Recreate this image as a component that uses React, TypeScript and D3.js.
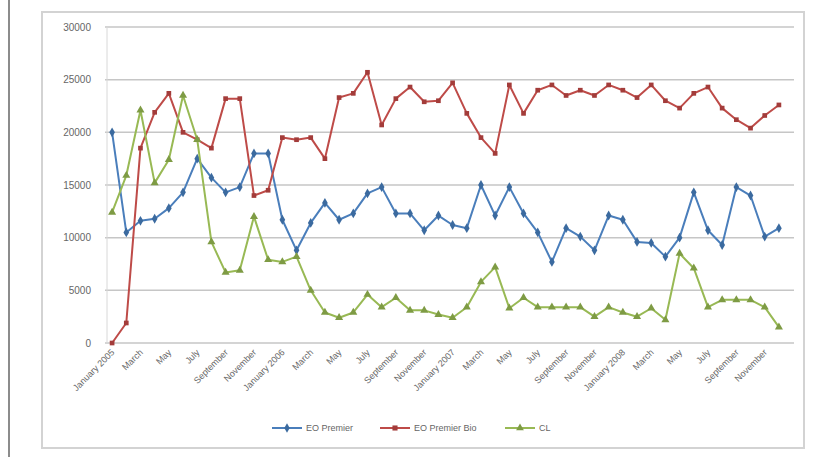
import * as d3 from "d3";

// categories (monthly), labelled every second month on the axis
const months = [
  "January 2005", "February", "March", "April", "May", "June", "July", "August",
  "September", "October", "November", "December",
  "January 2006", "February", "March", "April", "May", "June", "July", "August",
  "September", "October", "November", "December",
  "January 2007", "February", "March", "April", "May", "June", "July", "August",
  "September", "October", "November", "December",
  "January 2008", "February", "March", "April", "May", "June", "July", "August",
  "September", "October", "November", "December",
];

const premier = [
  20000, 10500, 11600, 11800, 12800, 14300, 17500, 15700, 14300, 14800, 18000, 18000,
  11700, 8800, 11400, 13300, 11700, 12300, 14200, 14800, 12300, 12300, 10700, 12100,
  11200, 10900, 15000, 12100, 14800, 12300, 10500, 7700, 10900, 10100, 8800, 12100,
  11700, 9600, 9500, 8200, 10000, 14300, 10700, 9300, 14800, 14000, 10100, 10900,
];

const premierBio = [
  0, 1900, 18500, 21900, 23700, 20000, 19300, 18500, 23200, 23200, 14000, 14500,
  19500, 19300, 19500, 17500, 23300, 23700, 25700, 20700, 23200, 24300, 22900, 23000,
  24700, 21800, 19500, 18000, 24500, 21800, 24000, 24500, 23500, 24000, 23500, 24500,
  24000, 23300, 24500, 23000, 22300, 23700, 24300, 22300, 21200, 20400, 21600, 22600,
];

const cl = [
  12400, 15900, 22100, 15200, 17400, 23500, 19300, 9600, 6700, 6900, 12000, 7900,
  7700, 8200, 5000, 2900, 2400, 2900, 4600, 3400, 4300, 3100, 3100, 2700,
  2400, 3400, 5800, 7200, 3300, 4300, 3400, 3400, 3400, 3400, 2500, 3400,
  2900, 2500, 3300, 2200, 8500, 7100, 3400, 4100, 4100, 4100, 3400, 1500,
];

const yTicks = [0, 5000, 10000, 15000, 20000, 25000, 30000];

const series = [
  { name: "EO Premier", values: premier, color: "#4A7EBB", mark: "#3B6A9F", symbol: d3.symbolDiamond },
  { name: "EO Premier Bio", values: premierBio, color: "#BE4B48", mark: "#A33C3A", symbol: d3.symbolSquare },
  { name: "CL", values: cl, color: "#98B954", mark: "#7E9B44", symbol: d3.symbolTriangle },
];

export default function App() {
  const width = 833;
  const height = 457;
  const plot = { left: 105, right: 786, top: 27, bottom: 343 };

  const x = d3
    .scalePoint<number>()
    .domain(d3.range(months.length))
    .range([plot.left, plot.right])
    .padding(0.5);

  const y = d3.scaleLinear().domain([0, 30000]).range([plot.bottom, plot.top]);

  const line = d3
    .line<number>()
    .x((_, i) => x(i) as number)
    .y((d) => y(d));

  const fmt = d3.format("d");
  const legendX = [272, 380, 505];

  return (
    <svg
      width={width}
      height={height}
      style={{ position: "absolute", left: 0, top: 0, fontFamily: "Liberation Sans, Arial, sans-serif" }}
    >
      <rect width={width} height={height} fill="#fff" />
      {/* page edge line */}
      <line x1={9} x2={9} y1={0} y2={height} stroke="#8c8c8c" strokeWidth={2} />
      {/* chart area */}
      <rect x={42} y={12} width={762} height={436} fill="#fff" stroke="#d3d3d3" strokeWidth={2} />

      {/* gridlines */}
      {yTicks.map((t) => (
        <line key={t} x1={plot.left} x2={plot.right + 8} y1={y(t)} y2={y(t)} stroke="#c6c6c6" strokeWidth={1.5} />
      ))}
      <line x1={plot.left + 2} x2={plot.left + 2} y1={plot.top} y2={plot.bottom} stroke="#d8d8d8" />

      {/* y axis labels */}
      {yTicks.map((t) => (
        <text key={t} x={91} y={y(t)} dy="0.35em" textAnchor="end" fontSize={10} fill="#666">
          {fmt(t)}
        </text>
      ))}

      {/* x axis labels */}
      {months.map((m, i) =>
        i % 2 === 0 ? (
          <text
            key={i}
            transform={`translate(${(x(i) as number) + 3},${plot.bottom + 10}) rotate(-45)`}
            textAnchor="end"
            fontSize={9}
            fill="#666"
          >
            {m}
          </text>
        ) : null
      )}

      {/* series */}
      {series.map((s) => (
        <g key={s.name}>
          <path d={line(s.values) ?? ""} fill="none" stroke={s.color} strokeWidth={2} strokeLinejoin="round" />
          {s.values.map((v, i) => (
            <path
              key={i}
              transform={`translate(${x(i)},${y(v)})`}
              d={d3.symbol().type(s.symbol).size(s.symbol === d3.symbolSquare ? 22 : 28)() ?? ""}
              fill={s.mark}
            />
          ))}
        </g>
      ))}

      {/* legend */}
      {series.map((s, i) => (
        <g key={s.name} transform={`translate(${legendX[i]},428)`}>
          <line x1={0} x2={30} y1={0} y2={0} stroke={s.color} strokeWidth={2} />
          <path transform="translate(15,0)" d={d3.symbol().type(s.symbol).size(26)() ?? ""} fill={s.mark} />
          <text x={34} y={0} dy="0.35em" fontSize={9} fill="#666">
            {s.name}
          </text>
        </g>
      ))}
    </svg>
  );
}
